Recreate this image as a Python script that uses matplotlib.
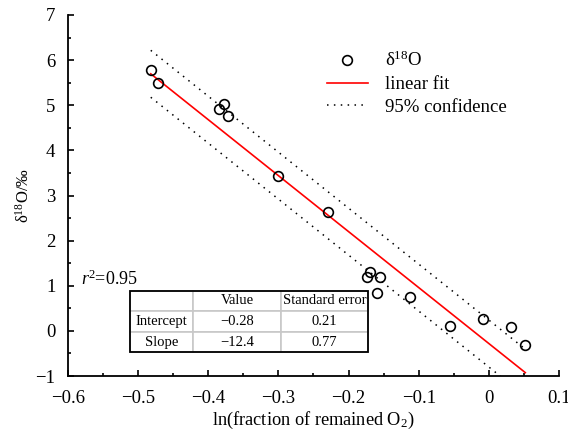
import matplotlib
matplotlib.use("Agg")
import matplotlib.pyplot as plt
import numpy as np
from matplotlib.patches import Rectangle

plt.rcParams["font.family"] = ["Liberation Serif", "DejaVu Serif"]
plt.rcParams["mathtext.fontset"] = "custom"
plt.rcParams["mathtext.rm"] = "Liberation Serif"
plt.rcParams["mathtext.it"] = "Liberation Serif:italic"
plt.rcParams["font.size"] = 13

# measured points
ln_frac = [-0.482, -0.472, -0.378, -0.385, -0.372, -0.300, -0.230, -0.170,
           -0.174, -0.155, -0.159, -0.112, -0.055, -0.009, 0.031, 0.052]
d18o = [5.79, 5.49, 5.03, 4.91, 4.76, 3.43, 2.63, 1.31,
        1.20, 1.19, 0.83, 0.74, 0.10, 0.26, 0.08, -0.32]

# fit results
fit_intercept = -0.28
fit_slope = -12.4
fit_se = [0.21, 0.77]
band_half = 0.52
r2 = 0.95

table_rows = ["Intercept", "Slope"]
table_cols = ["", "Value", "Standard error"]
table_vals = [["\u22120.28", "0.21"], ["\u221212.4", "0.77"]]

x = np.array(ln_frac)
y = np.array(d18o)
xf = np.array([x.min(), x.max()])
yf = fit_intercept + fit_slope * xf

fig = plt.figure(figsize=(5.68, 4.32), dpi=100)
ax = fig.add_axes([0.1197, 0.1296, 0.8644, 0.8357])

ax.plot(xf, yf + band_half, color="black", lw=1.1, dashes=(1, 3.5), label="95% confidence")
ax.plot(xf, yf - band_half, color="black", lw=1.1, dashes=(1, 3.5))
ax.plot(xf, yf, color="red", lw=1.2, label="linear fit")
ax.plot(x, y, "o", mfc="none", mec="black", mew=1.2, ms=7, label="δ$^{18}$O")

ax.set_xlim(-0.6, 0.1)
ax.set_ylim(-1, 7)
ax.set_xticks(np.arange(-0.6, 0.101, 0.1))
ax.set_xticks(np.arange(-0.55, 0.1, 0.1), minor=True)
ax.set_yticks(np.arange(-1, 7.1, 1))
ax.set_yticks(np.arange(-0.5, 7, 1), minor=True)
ax.set_xticklabels(["\u22120.6", "\u22120.5", "\u22120.4", "\u22120.3", "\u22120.2", "\u22120.1", "0", "0.1"])
ax.tick_params(which="major", direction="in", length=4, width=1.2, labelsize=13.5, pad=9)
ax.tick_params(axis="x", which="major", pad=10)
ax.tick_params(which="minor", direction="in", length=2.5, width=1.2)
ax.spines["top"].set_visible(False)
ax.spines["right"].set_visible(False)
for s in ("left", "bottom"):
    ax.spines[s].set_linewidth(1.3)

ax.set_xlabel("ln(fraction of remained O$_2$)", fontsize=13.2, labelpad=2)
ax.set_ylabel("δ$^{18}$O/‰", fontsize=12, labelpad=2)

h, l = ax.get_legend_handles_labels()
order = [2, 1, 0]
ax.legend([h[i] for i in order], [l[i] for i in order], loc="upper left",
          bbox_to_anchor=(0.508, 0.926), frameon=False, fontsize=13.5,
          handlelength=2.2, handletextpad=0.9, labelspacing=0.3, borderpad=0)

ax.text(-0.582, 1.15, "$r$$^2$=0.95", fontsize=13, ha="left", va="center")

cell_text = [[table_rows[i]] + table_vals[i] for i in range(2)]
tb = ax.table(cellText=[table_cols] + cell_text, cellLoc="center",
              colWidths=[63.3, 87.4, 87.6], bbox=[0.1263, 0.0657, 0.4853, 0.1706])
tb.auto_set_font_size(False)
for (r, c), cell in tb.get_celld().items():
    cell.set_edgecolor("#c8c8c8")
    cell.set_linewidth(1.2)
    cell.set_facecolor("white")
    cell.get_text().set_fontsize(10.5)
    if c == 0:
        cell._loc = "left"
        cell.PAD = 0.05
ax.add_patch(Rectangle((0.1263, 0.0657), 0.4853, 0.1706, transform=ax.transAxes,
                       fill=False, edgecolor="black", lw=1.3, zorder=10))

fig.savefig("out.png", dpi=100)
